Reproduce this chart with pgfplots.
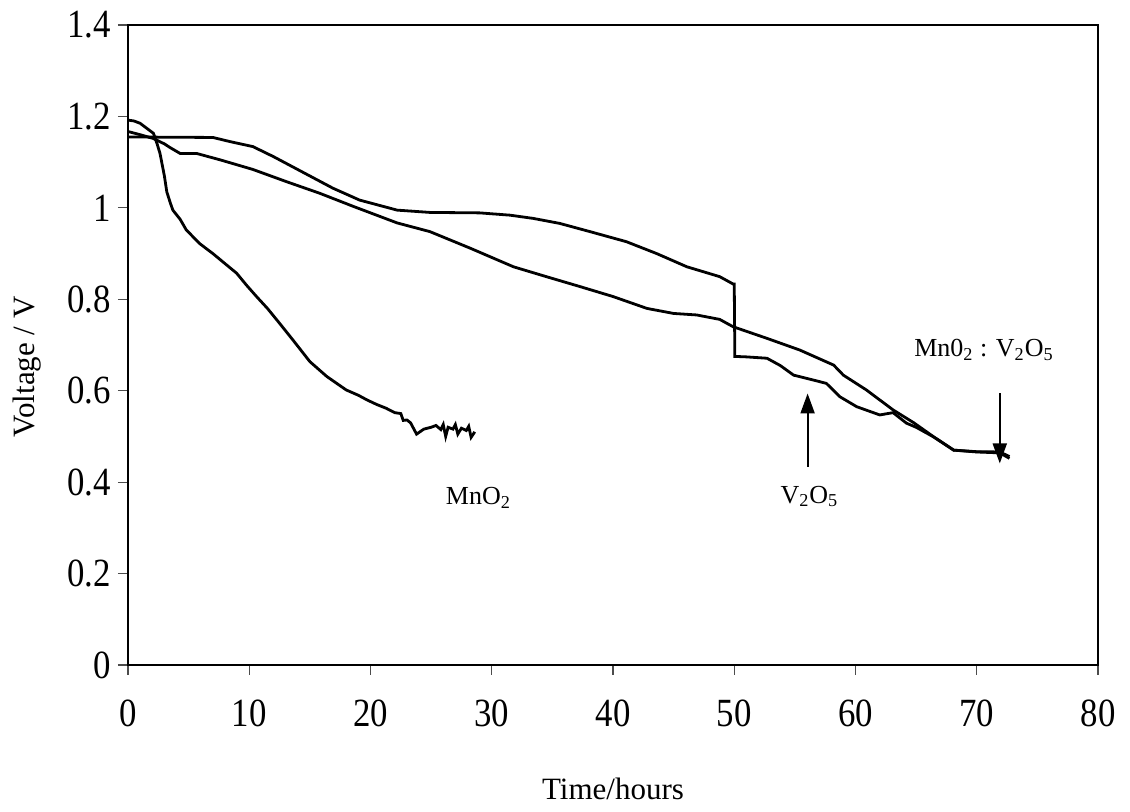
\documentclass[border=0pt]{standalone}
\usepackage{fontspec}
\setmainfont{Liberation Serif}
\newfontfamily\tickfont[FakeStretch=0.87]{Liberation Serif}
\usepackage{pgfplots}
\pgfplotsset{compat=1.18}
\usetikzlibrary{arrows.meta}

\pgfplotstableread{
x y
0 1.192
0.5 1.190
1.0 1.185
1.5 1.175
2.1 1.163
2.4 1.140
2.64 1.119
3.0 1.070
3.2 1.035
3.5 1.010
3.7 0.995
4.3 0.975
4.8 0.952
5.9 0.922
7.0 0.900
8.0 0.878
8.96 0.857
9.8 0.830
10.6 0.806
11.5 0.780
12.5 0.7475
13.6 0.711
15.0 0.6636
16.4 0.631
18.0 0.6016
19.0 0.590
19.7 0.580
20.5 0.570
21.3 0.5615
22.0 0.552
22.5 0.550
22.7 0.535
23.0 0.536
23.3 0.530
23.5 0.520
23.8 0.505
24.4 0.516
25.0 0.520
25.4 0.524
25.8 0.515
26.0 0.526
26.2 0.500
26.4 0.520
26.8 0.516
27.0 0.526
27.2 0.505
27.5 0.518
27.9 0.513
28.1 0.522
28.3 0.498
28.6 0.510
}\mnotwo

\pgfplotstableread{
x y
0 1.155
7.0 1.154
8.4 1.145
10.3 1.134
12.0 1.112
14.2 1.081
16.9 1.043
19.1 1.017
22.2 0.995
24.9 0.990
29.0 0.989
31.5 0.984
33.4 0.977
35.6 0.966
38.1 0.948
41.1 0.926
43.6 0.900
46.1 0.871
48.8 0.8495
49.9 0.8335
50.0 0.8335
50.05 0.675
51.0 0.674
52.7 0.671
53.8 0.655
54.9 0.634
56.5 0.6235
57.6 0.616
58.7 0.587
60.1 0.565
62.0 0.547
63.1 0.552
64.2 0.529
65.0 0.520
66.4 0.4995
68.1 0.470
70.0 0.4666
71.9 0.466
72.7 0.456
}\vtwoofive

\pgfplotstableread{
x y
0 1.167
1.0 1.160
2.06 1.152
3.0 1.140
3.46 1.132
4.3 1.119
5.66 1.119
7.6 1.105
10.3 1.084
13.1 1.057
15.8 1.032
18.6 1.003
22.2 0.967
24.9 0.948
28.2 0.912
31.8 0.871
34.5 0.8495
37.3 0.8276
40.0 0.806
42.8 0.780
45.0 0.769
46.9 0.7657
48.8 0.756
49.9 0.740
52.7 0.7145
55.4 0.689
58.2 0.656
59.0 0.634
60.9 0.6016
63.1 0.558
64.8 0.530
66.4 0.500
68.1 0.470
70.0 0.466
71.9 0.464
72.7 0.452
}\mix

\begin{document}
\begin{tikzpicture}
\useasboundingbox (-64pt,-73.5pt) rectangle (501pt,332.5pt);
\begin{axis}[
  scale only axis, width=485pt, height=320pt,
  xmin=0, xmax=80, ymin=0, ymax=1.4,
  xtick={0,10,20,30,40,50,60,70,80},
  ytick={0,0.2,0.4,0.6,0.8,1,1.2,1.4},
  tick align=outside, tick pos=left, major tick length=5pt,
  tick style={line width=0.6pt, color=black!70},
  axis line style={line width=1.1pt},
  /pgf/number format/assume math mode=true,
  tick label style={font=\tickfont\fontsize{20}{20}\selectfont},
  xticklabel shift=9pt,
  xlabel={Time/hours}, ylabel={Voltage / V},
  label style={font=\fontsize{15.5}{15.5}\selectfont},
  xlabel style={at={(axis description cs:0.5,0)}, anchor=base, yshift=-67.5pt},
  ylabel style={at={(axis description cs:-0.1041,0.466)}, anchor=center},
  clip=false,
]
\addplot[black, line width=1.4pt] table {\mnotwo};
\addplot[black, line width=1.4pt] table {\vtwoofive};
\addplot[black, line width=1.4pt] table {\mix};
\draw[line width=1pt, -{Triangle[width=7pt,length=10pt]}] (axis cs:56.05,0.434) -- (axis cs:56.05,0.594);
\draw[line width=1pt, -{Triangle[width=7pt,length=10pt]}] (axis cs:71.9,0.594) -- (axis cs:71.9,0.441);
\node[anchor=base, font=\fontsize{13}{13}\selectfont] at (axis cs:28.9,0.35) {MnO\textsubscript{2}};
\node[anchor=base, font=\fontsize{13}{13}\selectfont] at (axis cs:56.2,0.354) {V\textsubscript{2}O\textsubscript{5}};
\node[anchor=base, font=\fontsize{13}{13}\selectfont] at (axis cs:70.6,0.674) {Mn0\textsubscript{2} : V\textsubscript{2}O\textsubscript{5}};
\end{axis}
\end{tikzpicture}
\end{document}
